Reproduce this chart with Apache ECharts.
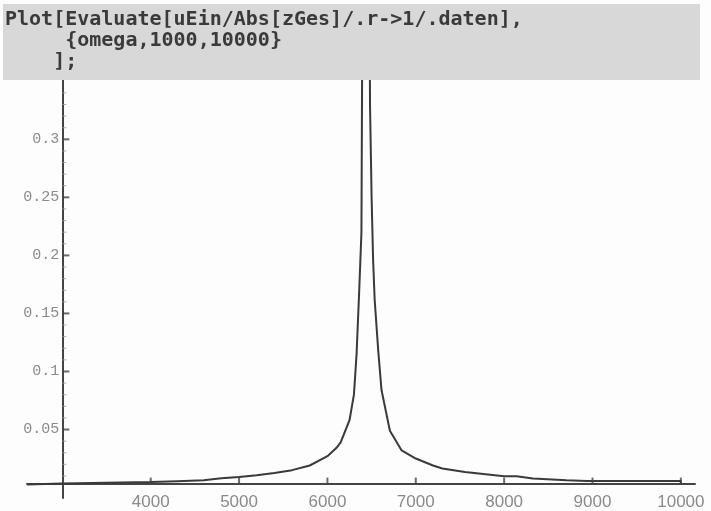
<!DOCTYPE html>
<html>
<head>
<meta charset="utf-8">
<script src="https://cdn.jsdelivr.net/npm/echarts@6/dist/echarts.min.js"></script>
<style>
  html, body { margin: 0; padding: 0; background: #fdfdfd; }
  #chart { width: 711px; height: 511px; }
</style>
</head>
<body>
<div id="chart"></div>
<script>
// Mathematica input cell shown above the plot
var codeLines = [
  'Plot[Evaluate[uEin/Abs[zGes]/.r->1/.daten],',
  '     {omega,1000,10000}',
  '    ];'
];

// omega values and |u| (peak clipped at the top)
var omega = [2600, 3000, 3500, 4000, 4300, 4600, 4800, 5000, 5200, 5400,
  5600, 5800, 6000, 6100, 6150, 6250, 6300, 6330, 6360, 6385,
  6395, 6435, 6478, 6482, 6500, 6517, 6535, 6575, 6612, 6707,
  6840, 7000, 7195, 7300, 7556, 7896, 8000, 8141, 8326, 8707,
  8934, 10000, 10000];
var amplitude = [0.0026, 0.0035, 0.0042, 0.0047, 0.0055, 0.0063, 0.0080, 0.0090, 0.0105, 0.0125,
  0.0150, 0.0190, 0.0270, 0.0340, 0.0390, 0.0580, 0.0800, 0.1150, 0.1700, 0.2200,
  0.4000, 3.0000, 0.4000, 0.3300, 0.2500, 0.1960, 0.1615, 0.1180, 0.0840, 0.0490,
  0.0320, 0.0250, 0.0190, 0.0164, 0.0134, 0.0106, 0.0097, 0.0097, 0.0078, 0.0063,
  0.0057, 0.0057, 0.0034];

var xTicks = [4000, 5000, 6000, 7000, 8000, 9000, 10000];
var yTicks = [0.05, 0.1, 0.15, 0.2, 0.25, 0.3];
var yMinorTicks = [0.01, 0.02, 0.03, 0.04, 0.06, 0.07, 0.08, 0.09, 0.11, 0.12, 0.13, 0.14,
  0.16, 0.17, 0.18, 0.19, 0.21, 0.22, 0.23, 0.24, 0.26, 0.27, 0.28, 0.29, 0.31, 0.32, 0.33, 0.34];

// plot range and where the axes cross (Mathematica style)
var xMin = 2600, xMax = 10160, xOrigin = 3000;
var yMin = -0.009, yMax = 0.3511, yOrigin = 0.0034;

var W = 711, H = 511;
var gLeft = 27, gRight = 16, gTop = 80, gBottom = 13;
var gW = W - gLeft - gRight, gH = H - gTop - gBottom;
var xAxisOffset = -(yOrigin - yMin) / (yMax - yMin) * gH;
var yAxisOffset = -(xOrigin - xMin) / (xMax - xMin) * gW;

var axisColor = '#444';
var labelColor = '#8a8a8a';

var points = omega.map(function (w, i) { return [w, amplitude[i]]; });

// tick marks as small rect symbols sitting on the crossing axes
function tickSeries(data, size, offset, color) {
  return {
    type: 'scatter',
    silent: true,
    z: 6,
    symbol: 'rect',
    symbolSize: size,
    symbolOffset: offset,
    itemStyle: { color: color },
    data: data
  };
}

var chart = echarts.init(document.getElementById('chart'), null, { renderer: 'canvas' });

var option = {
  animation: false,
  backgroundColor: '#fdfdfd',
  grid: { left: gLeft, right: gRight, top: gTop, bottom: gBottom, containLabel: false, outerBoundsMode: 'none' },
  graphic: [
    { type: 'rect', left: 3, top: 4, shape: { width: 697, height: 76 }, style: { fill: '#d8d8d8' }, z: 10 },
    {
      type: 'text', left: 5, top: 9, z: 11,
      style: {
        text: codeLines.join('\n'),
        font: 'bold 20px "DejaVu Sans Mono"',
        lineHeight: 21,
        fill: '#3a3a3a'
      }
    }
  ],
  xAxis: {
    type: 'value',
    min: xMin,
    max: xMax,
    position: 'bottom',
    offset: xAxisOffset,
    splitLine: { show: false },
    axisLine: { show: true, onZero: false, lineStyle: { color: axisColor, width: 2 } },
    axisTick: { show: false },
    axisLabel: {
      customValues: xTicks,
      margin: 10,
      color: labelColor,
      fontFamily: 'Liberation Sans',
      fontSize: 17,
      formatter: function (v) { return String(v); }
    }
  },
  yAxis: {
    type: 'value',
    min: yMin,
    max: yMax,
    position: 'left',
    offset: yAxisOffset,
    splitLine: { show: false },
    axisLine: { show: true, onZero: false, lineStyle: { color: axisColor, width: 2 } },
    axisTick: { show: false },
    axisLabel: {
      customValues: yTicks,
      margin: 3,
      color: labelColor,
      fontFamily: 'Liberation Mono',
      fontSize: 15,
      formatter: function (v) { return String(+v.toFixed(2)); }
    }
  },
  series: [
    {
      type: 'line',
      data: points,
      showSymbol: false,
      clip: true,
      lineStyle: { color: '#3a3a3a', width: 2 },
      z: 3
    },
    tickSeries(xTicks.map(function (v) { return [v, yOrigin]; }), [2, 6], [0, -3], axisColor),
    tickSeries(yTicks.map(function (v) { return [xOrigin, v]; }), [7, 2], [3.5, 0], axisColor),
    tickSeries(yMinorTicks.map(function (v) { return [xOrigin, v]; }), [4, 1], [2, 0], '#999')
  ]
};

chart.setOption(option);
</script>
</body>
</html>
